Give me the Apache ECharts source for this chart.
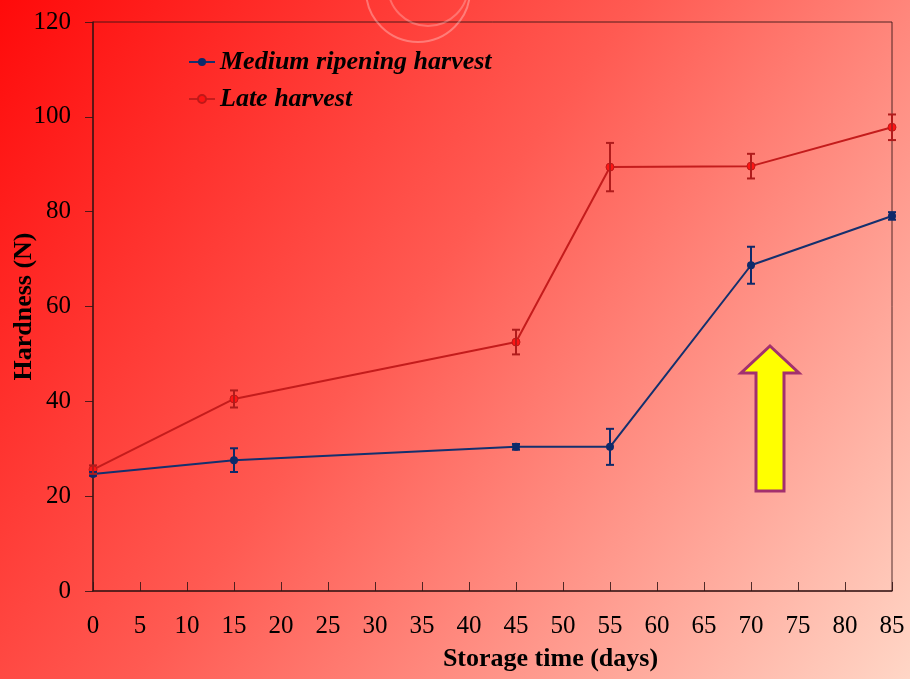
<!DOCTYPE html>
<html>
<head>
<meta charset="utf-8">
<script src="https://cdn.jsdelivr.net/npm/echarts@6/dist/echarts.min.js"></script>
<style>
  html, body { margin: 0; padding: 0; }
  #chartBox { width: 910px; height: 679px; }
</style>
</head>
<body>
<div id="chartBox"></div>
<script>
// storage days
var days = [0, 15, 45, 55, 70, 85]
// medium ripening harvest, hardness (N) and error
var mediumMean = [24.7, 27.6, 30.4, 30.4, 68.7, 79.1]
var mediumErr = [0.4, 2.5, 0.6, 3.8, 3.9, 0.8]
// late harvest
var lateMean = [25.6, 40.5, 52.5, 89.4, 89.6, 97.8]
var lateErr = [0.9, 1.8, 2.6, 5.1, 2.6, 2.7]

var serif = '"Liberation Serif", "DejaVu Serif", serif'
var axisColor = 'rgba(50,20,20,0.85)'

function pairs (xs, ys) {
  return xs.map(function (x, i) { return [x, ys[i]] })
}
function errRows (xs, ys, es) {
  return xs.map(function (x, i) { return [x, ys[i] - es[i], ys[i] + es[i]] })
}

function errorBars (color) {
  return function (params, api) {
    var lo = api.coord([api.value(0), api.value(1)])
    var hi = api.coord([api.value(0), api.value(2)])
    var w = 4
    var st = { stroke: color, lineWidth: 2 }
    return {
      type: 'group',
      children: [
        { type: 'line', shape: { x1: lo[0], y1: lo[1], x2: hi[0], y2: hi[1] }, style: st },
        { type: 'line', shape: { x1: lo[0] - w, y1: lo[1], x2: lo[0] + w, y2: lo[1] }, style: st },
        { type: 'line', shape: { x1: hi[0] - w, y1: hi[1], x2: hi[0] + w, y2: hi[1] }, style: st }
      ]
    }
  }
}

var myChart = echarts.init(document.getElementById('chartBox'))

var option = {
  animation: false,
  backgroundColor: new echarts.graphic.LinearGradient(0, 0, 1, 1, [
    { offset: 0, color: '#ff0a0a' },
    { offset: 0.45, color: '#ff5a52' },
    { offset: 1, color: '#ffd6c6' }
  ]),
  grid: {
    left: 93,
    right: 18,
    top: 22,
    bottom: 88,
    containLabel: false,
    outerBoundsMode: 'none',
    show: true,
    borderColor: axisColor,
    borderWidth: 1,
    backgroundColor: 'transparent'
  },
  legend: {
    orient: 'vertical',
    left: 183,
    top: 44,
    itemGap: 11,
    itemWidth: 26,
    itemHeight: 10,
    data: ['Medium ripening harvest', 'Late harvest'],
    textStyle: {
      fontFamily: serif,
      fontStyle: 'italic',
      fontWeight: 'bold',
      fontSize: 26,
      color: '#000'
    }
  },
  xAxis: {
    type: 'value',
    min: 0,
    max: 85,
    interval: 5,
    name: 'Storage time (days)',
    nameLocation: 'middle',
    nameGap: 55,
    nameTextStyle: {
      fontFamily: serif,
      fontWeight: 'bold',
      fontSize: 26,
      color: '#000',
      padding: [0, 0, 0, 116]
    },
    axisLine: { lineStyle: { color: axisColor, width: 1.5 } },
    axisTick: { inside: true, length: 9, lineStyle: { color: axisColor } },
    axisLabel: { fontFamily: serif, fontSize: 25, color: '#000', margin: 23 },
    splitLine: { show: false }
  },
  yAxis: {
    type: 'value',
    min: 0,
    max: 120,
    interval: 20,
    name: 'Hardness (N)',
    nameLocation: 'middle',
    nameGap: 56,
    nameMoveOverlap: false,
    nameTextStyle: { fontFamily: serif, fontWeight: 'bold', fontSize: 26, color: '#000' },
    axisLine: { show: true, lineStyle: { color: axisColor, width: 1.5 } },
    axisTick: { show: true, length: 8, lineStyle: { color: axisColor } },
    axisLabel: { fontFamily: serif, fontSize: 25, color: '#000', margin: 22 },
    splitLine: { show: false }
  },
  graphic: [
    {
      type: 'circle',
      shape: { cx: 418, cy: -10, r: 52 },
      style: { fill: 'none', stroke: 'rgba(255,255,255,0.3)', lineWidth: 2 },
      silent: true
    },
    {
      type: 'circle',
      shape: { cx: 428, cy: -14, r: 40 },
      style: { fill: 'none', stroke: 'rgba(255,255,255,0.25)', lineWidth: 2 },
      silent: true
    },
    {
      // yellow arrow annotation
      type: 'polygon',
      z: 100,
      shape: {
        points: [[770, 346], [799, 373], [784, 373], [784, 491], [756, 491], [756, 373], [741, 373]]
      },
      style: { fill: '#ffff00', stroke: '#a3306e', lineWidth: 3 }
    }
  ],
  series: [
    {
      name: 'Medium ripening harvest',
      type: 'line',
      data: pairs(days, mediumMean),
      symbol: 'circle',
      symbolSize: 8,
      z: 3,
      lineStyle: { color: '#14306e', width: 2 },
      itemStyle: { color: '#0e2a6a' }
    },
    {
      name: 'Late harvest',
      type: 'line',
      data: pairs(days, lateMean),
      symbol: 'circle',
      symbolSize: 8,
      z: 3,
      lineStyle: { color: '#c41c1c', width: 2 },
      itemStyle: { color: '#ff1414', borderColor: '#c01818', borderWidth: 1 }
    },
    {
      type: 'custom',
      name: 'medium err',
      data: errRows(days, mediumMean, mediumErr),
      renderItem: errorBars('#0e2a6a'),
      encode: { x: 0, y: [1, 2] },
      z: 4
    },
    {
      type: 'custom',
      name: 'late err',
      data: errRows(days, lateMean, lateErr),
      renderItem: errorBars('#b01c1c'),
      encode: { x: 0, y: [1, 2] },
      z: 4
    }
  ]
}

myChart.setOption(option)
</script>
</body>
</html>
